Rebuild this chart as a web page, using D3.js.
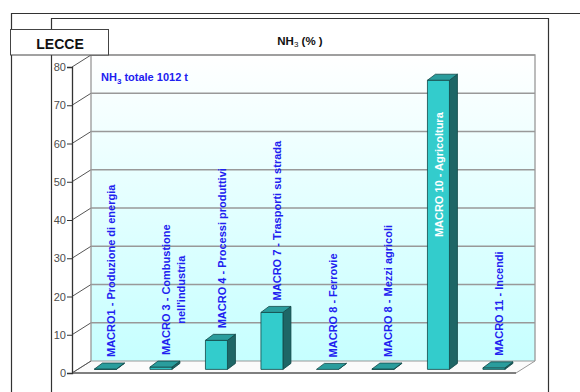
<!DOCTYPE html>
<html>
<head>
<meta charset="utf-8">
<script src="https://cdn.jsdelivr.net/npm/d3@7"></script>
<style>
  body { margin: 0; background: #fff; }
  text { font-family: Arial, "Liberation Sans", sans-serif; }
</style>
</head>
<body>
<svg id="chart" width="580" height="392"></svg>
<script>
// NH3 emissions by macro-sector, percentage of the provincial total
const province = "LECCE";
const categories = [
  "MACRO1 - Produzione di energia",
  "MACRO 3 - Combustione\nnell'industria",
  "MACRO 4 - Processi produttivi",
  "MACRO 7 - Trasporti su strada",
  "MACRO 8 - Ferrovie",
  "MACRO 8 - Mezzi agricoli",
  "MACRO 10 - Agricoltura",
  "MACRO 11 - Incendi"
];
const values = [0.1, 0.6, 7.6, 14.9, 0.0, 0.1, 75.6, 0.4];
const yTicks = [0, 10, 20, 30, 40, 50, 60, 70, 80];
const totalTonnes = 1012;

const svg = d3.select("#chart");

// Frame lines
svg.append("path").attr("d", "M11.5,392 V13.5 H580").attr("fill", "none").attr("stroke", "#333").attr("stroke-width", 1.2);
svg.append("path").attr("d", "M51.5,392 V18.5 H548.5 V392").attr("fill", "none").attr("stroke", "#333").attr("stroke-width", 1.2);

// 3D box geometry: front plane + depth offset to the back wall
const front = { left: 72, right: 516 };
const depth = { dx: 19, dy: 12 };
const y = d3.scaleLinear().domain([0, 80]).range([373, 67]);
const x = d3.scaleBand().domain(categories).range([front.left, front.right]);

const defs = svg.append("defs");
const grad = defs.append("linearGradient").attr("id", "wall").attr("x1", 0).attr("y1", 0).attr("x2", 0).attr("y2", 1);
grad.append("stop").attr("offset", "0%").attr("stop-color", "#ffffff");
grad.append("stop").attr("offset", "100%").attr("stop-color", "#c6ffff");

const backL = front.left + depth.dx, backR = front.right + depth.dx;
const backTop = y(80) - depth.dy, backBot = y(0) - depth.dy;

// back wall
svg.append("rect").attr("x", backL).attr("y", backTop).attr("width", backR - backL).attr("height", backBot - backTop)
  .attr("fill", "url(#wall)");
// left wall
svg.append("path").attr("d", `M${front.left},${y(80)} L${backL},${backTop} L${backL},${backBot} L${front.left},${y(0)} Z`)
  .attr("fill", "#ffffff");
// floor
svg.append("path").attr("d", `M${front.left},${y(0)} L${backL},${backBot} L${backR},${backBot} L${front.right},${y(0)} Z`)
  .attr("fill", "#fbfbfb").attr("stroke", "#999").attr("stroke-width", 1);

// gridlines on the back wall and left wall
yTicks.forEach(t => {
  const yf = y(t), yb = y(t) - depth.dy;
  if (t > 0) {
    svg.append("line").attr("x1", backL).attr("x2", backR).attr("y1", yb).attr("y2", yb)
      .attr("stroke", "#999").attr("stroke-width", 1.3);
  }
  svg.append("line").attr("x1", front.left).attr("x2", backL).attr("y1", yf).attr("y2", yb)
    .attr("stroke", "#555").attr("stroke-width", 1);
});
// wall outlines
svg.append("path").attr("d", `M${backL},${backBot} V${backTop} H${backR} V${backBot}`)
  .attr("fill", "none").attr("stroke", "#999").attr("stroke-width", 1.3);
svg.append("line").attr("x1", front.left).attr("x2", front.right).attr("y1", y(0)).attr("y2", y(0))
  .attr("stroke", "#666").attr("stroke-width", 1.3);

// y axis
const axis = svg.append("g").attr("transform", `translate(${front.left},0)`)
  .call(d3.axisLeft(y).tickValues(yTicks).tickSize(5).tickPadding(1));
axis.select(".domain").attr("stroke", "#333").attr("stroke-width", 1.3);
axis.selectAll(".tick line").attr("stroke", "#333");
axis.selectAll(".tick text").attr("fill", "#4d4d4d").attr("font-size", 11)
  .attr("font-family", "Arial, 'Liberation Sans', sans-serif");

// bars
const barW = 22, barDx = 8, barDy = 6;
const depthFrac = 0.3;
const ox = depth.dx * depthFrac, oy = depth.dy * depthFrac;
const bars = svg.append("g");
const labels = svg.append("g");

categories.forEach((c, i) => {
  const v = values[i];
  const cx = x(c) + x.bandwidth() / 2 + ox;
  const x0 = cx - barW / 2;
  const yb = y(0) - oy, yt = y(v) - oy;
  const g = bars.append("g").attr("stroke", "#124848").attr("stroke-width", 0.8).attr("stroke-linejoin", "round");
  g.append("path").attr("d", `M${x0 + barW},${yt} L${x0 + barW + barDx},${yt - barDy} L${x0 + barW + barDx},${yb - barDy} L${x0 + barW},${yb} Z`)
    .attr("fill", "#1e6666");
  g.append("rect").attr("x", x0).attr("y", yt).attr("width", barW).attr("height", yb - yt).attr("fill", "#33cccc");
  g.append("path").attr("d", `M${x0},${yt} L${x0 + barDx},${yt - barDy} L${x0 + barW + barDx},${yt - barDy} L${x0 + barW},${yt} Z`)
    .attr("fill", "#2a9d9d");

  const lines = c.split("\n");
  const lx = cx + 7.5;
  const t = labels.append("g");
  const first = t.append("text").attr("font-size", 11).attr("font-weight", "bold").attr("dy", "0.35em").text(lines[0]);
  const len = first.node().getComputedTextLength();
  const above = yt - 12;
  if (above - len < backTop) {
    // no room above the bar: write the label inside, in white
    t.attr("transform", `translate(${cx + 0.5},${yt + 32}) rotate(-90)`);
    first.attr("text-anchor", "end").attr("fill", "#ffffff");
  } else {
    t.attr("transform", `translate(${lx - 2},${above}) rotate(-90)`);
    first.attr("fill", "#2020f0");
    lines.slice(1).forEach((ln, k) => {
      t.append("text").attr("font-size", 11).attr("font-weight", "bold").attr("dy", "0.35em")
        .attr("x", len / 2).attr("y", 15 * (k + 1)).attr("text-anchor", "middle").attr("fill", "#2020f0").text(ln);
    });
  }
});

// total annotation
const tot = svg.append("text").attr("x", 101).attr("y", 81).attr("font-size", 11).attr("font-weight", "bold").attr("fill", "#2020f0");
tot.append("tspan").text("NH");
tot.append("tspan").attr("font-size", 8).attr("dy", 2.5).text("3");
tot.append("tspan").attr("dy", -2.5).text(` totale  ${totalTonnes} t`);

// chart title
const title = svg.append("text").attr("x", 300).attr("y", 45).attr("font-size", 11.5).attr("font-weight", "bold")
  .attr("fill", "#111").attr("text-anchor", "middle");
title.append("tspan").text("NH");
title.append("tspan").attr("font-size", 8).attr("font-weight", "normal").attr("dy", 1.5).text("3");
title.append("tspan").attr("dy", -1.5).text(" (% )");

// province box
svg.append("rect").attr("x", 10.5).attr("y", 29.5).attr("width", 98).attr("height", 25.5)
  .attr("fill", "#fff").attr("stroke", "#444").attr("stroke-width", 1);
svg.append("text").attr("x", 60).attr("y", 49).attr("text-anchor", "middle").attr("font-size", 14)
  .attr("font-weight", "bold").attr("fill", "#111").text(province);
</script>
</body>
</html>
